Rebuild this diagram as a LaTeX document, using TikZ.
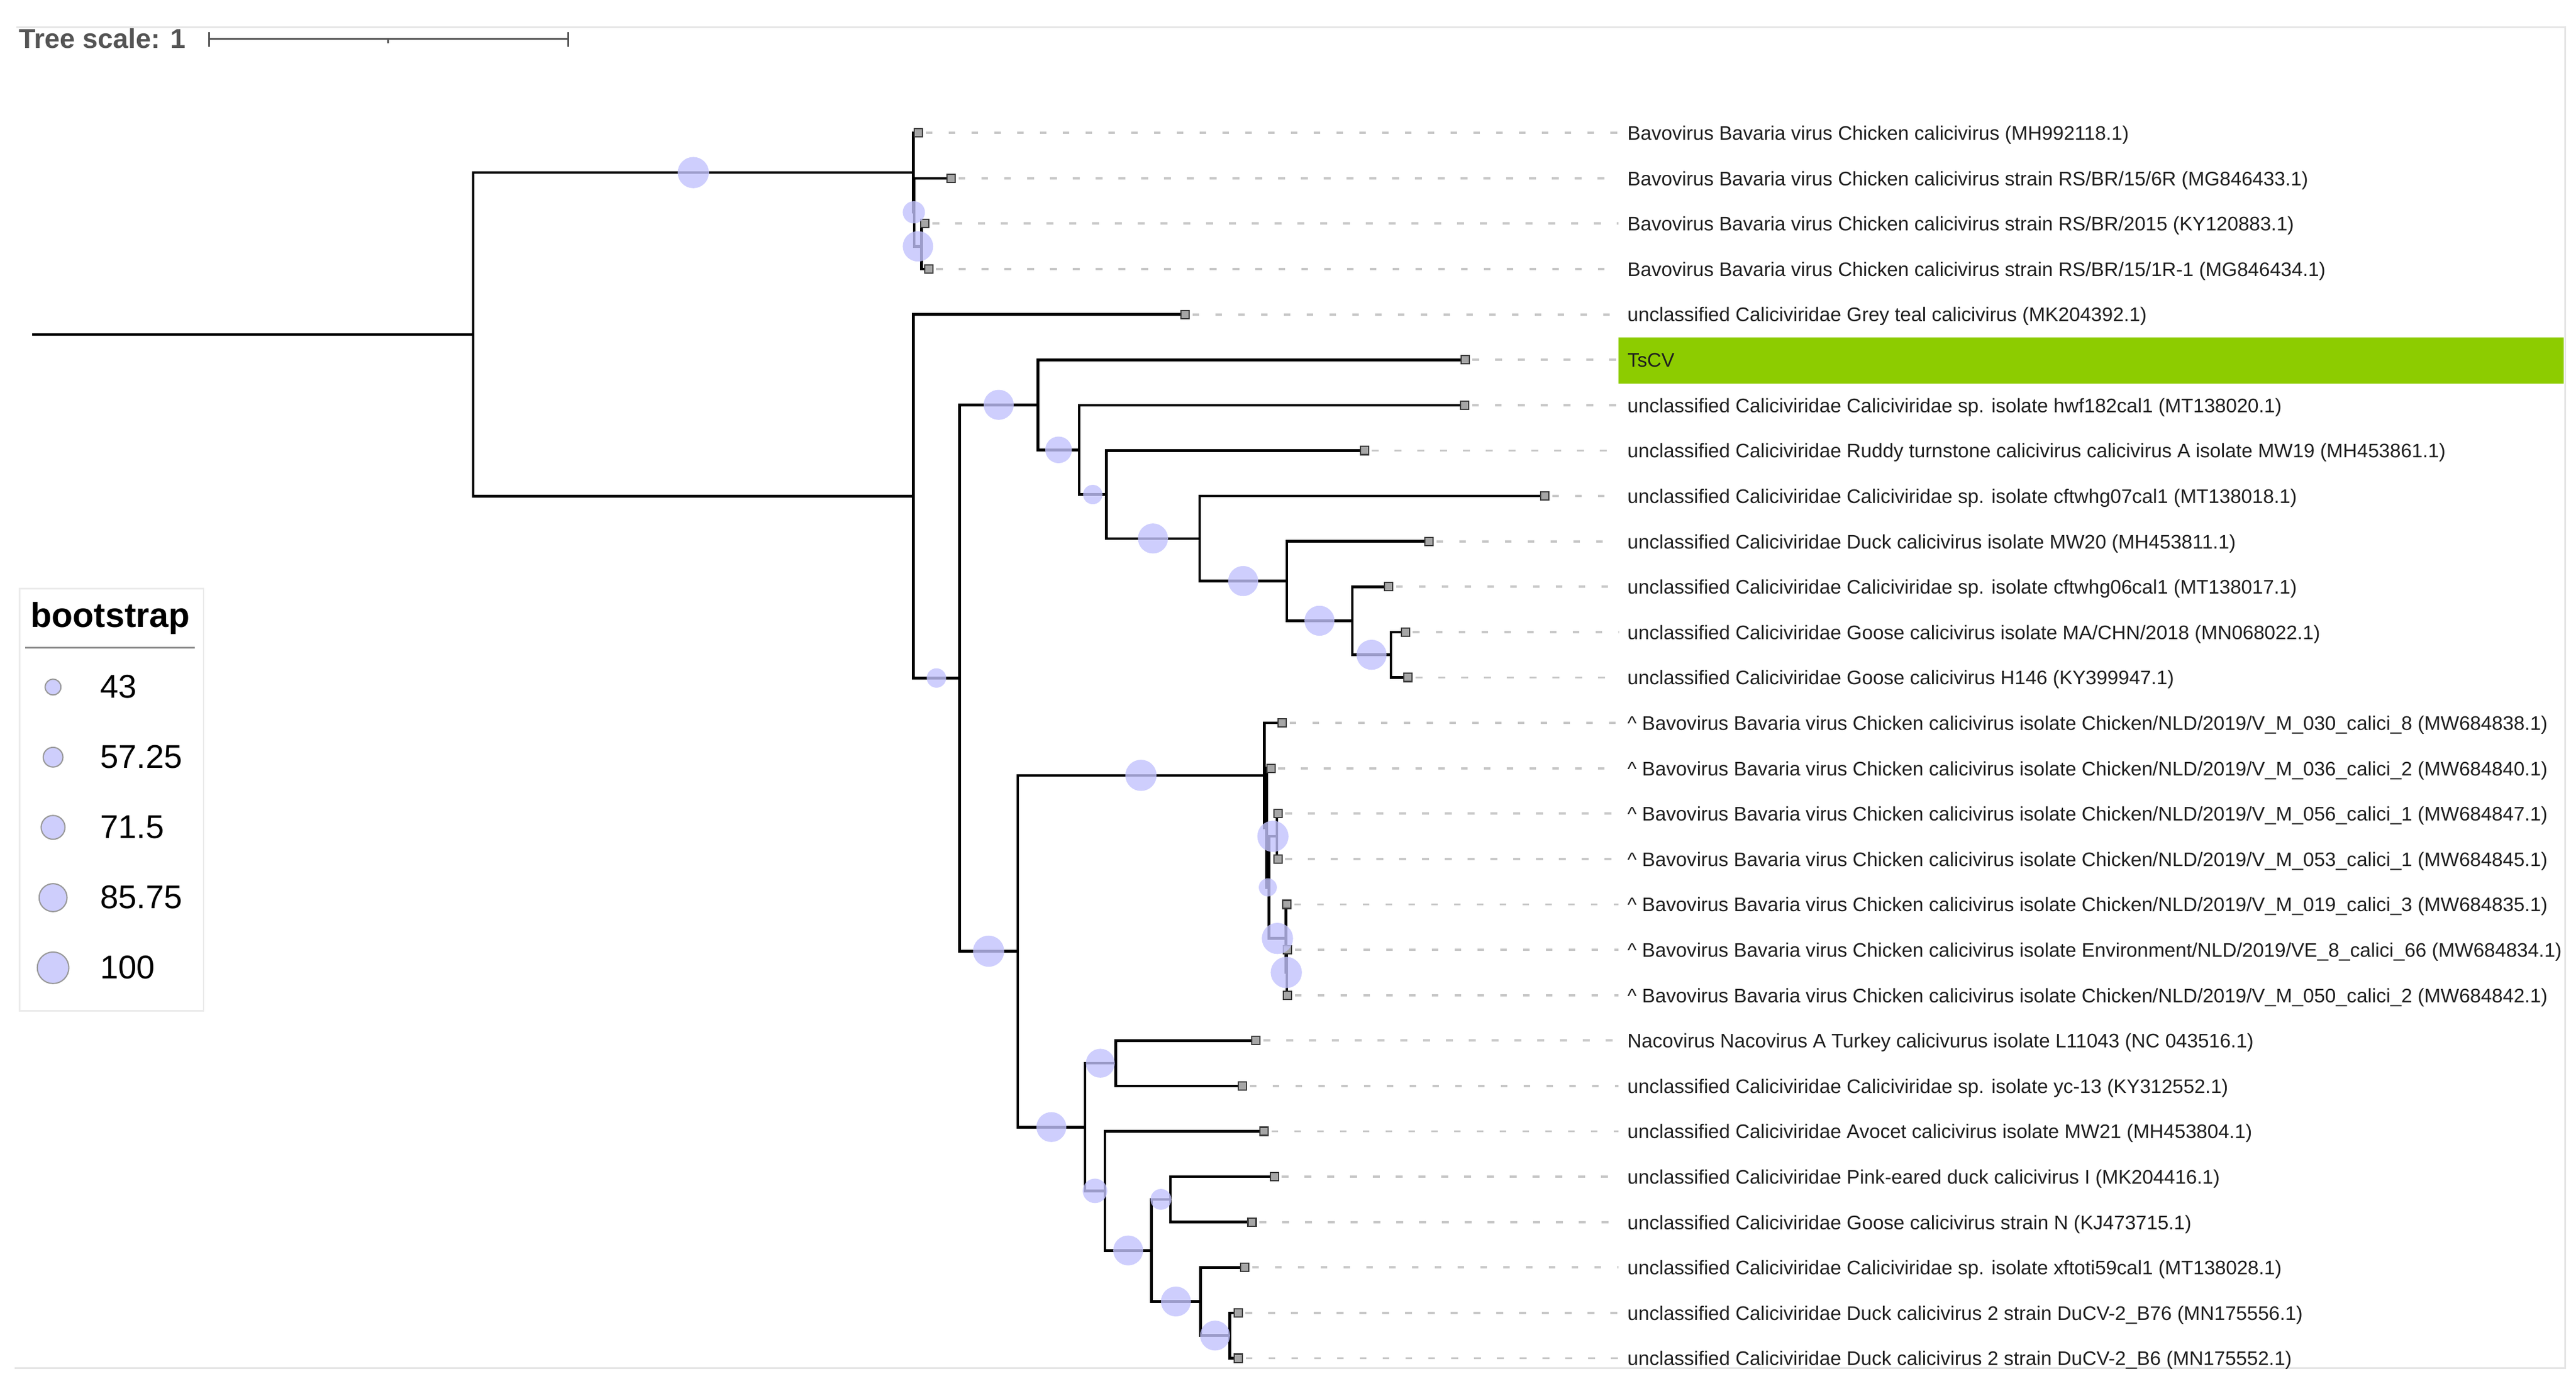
\documentclass[tikz,border=0pt]{standalone}
\usepackage{fontspec}
\setmainfont{Liberation Sans}
\usetikzlibrary{calc}
\definecolor{bootfill}{RGB}{194,194,252}
\definecolor{legfill}{RGB}{206,206,252}
\definecolor{tsgreen}{RGB}{141,204,0}
\def\U{0.02809cm}
\tikzset{
  branch/.style={line width=1.3pt, black},
  leader/.style={line width=1.1pt, black!22, dash pattern=on 3.3pt off 7.8pt},
  leafmark/.style={draw=black!78, fill=black!35, line width=0.6pt, rectangle, inner sep=0pt, minimum size=4pt},
  boot/.style={circle, inner sep=0pt, fill=bootfill, fill opacity=0.8, draw=none},
  legc/.style={circle, inner sep=0pt, fill=legfill, draw=black!40, line width=0.6pt},
  lab/.style={anchor=base west, inner sep=0pt, text=black!88, font=\fontsize{9.55pt}{11pt}\selectfont},
  scalebar/.style={line width=0.9pt, black!67},
}
\newcommand{\mkleaf}[4]{%
  \coordinate (l#1) at (#2,#3);
  \coordinate (e#1) at (985,#3);
  \node[lab] (t#1) at (990.4,#3+4.4) {#4};
}
\newcommand{\edge}[2]{\draw[branch] (#1) |- (#2);}
\newcommand{\bootc}[3]{\node[boot, minimum size=#3*\U] (b#2) at ($(#1 |- #2)!0.5!(#2)$) {};}
\begin{document}
\begin{tikzpicture}[x=\U, y=-\U]
\useasboundingbox (0,0) rectangle (1568,843.8);
% frame
\draw[black!10, line width=1pt] (10,16.6) -- (1561.4,16.6) -- (1561.4,833) -- (9,833);
% highlight
\fill[tsgreen] (985.3,205.4) rectangle (1560.6,233.4);

% leaves
\mkleaf{1}{559}{80.9}{Bavovirus Bavaria virus Chicken calicivirus (MH992118.1)}
\mkleaf{2}{579}{108.53}{Bavovirus Bavaria virus Chicken calicivirus strain RS/BR/15/6R (MG846433.1)}
\mkleaf{3}{563}{136.16}{Bavovirus Bavaria virus Chicken calicivirus strain RS/BR/2015 (KY120883.1)}
\mkleaf{4}{565.3}{163.79}{Bavovirus Bavaria virus Chicken calicivirus strain RS/BR/15/1R-1 (MG846434.1)}
\mkleaf{5}{721.3}{191.42}{unclassified Caliciviridae Grey teal calicivirus (MK204392.1)}
\mkleaf{6}{891.8}{219.05}{TsCV}
\mkleaf{7}{891.6}{246.68}{unclassified Caliciviridae Caliciviridae sp. isolate hwf182cal1 (MT138020.1)}
\mkleaf{8}{830.5}{274.31}{unclassified Caliciviridae Ruddy turnstone calicivirus calicivirus A isolate MW19 (MH453861.1)}
\mkleaf{9}{940.3}{301.94}{unclassified Caliciviridae Caliciviridae sp. isolate cftwhg07cal1 (MT138018.1)}
\mkleaf{10}{869.8}{329.57}{unclassified Caliciviridae Duck calicivirus isolate MW20 (MH453811.1)}
\mkleaf{11}{845.2}{357.2}{unclassified Caliciviridae Caliciviridae sp. isolate cftwhg06cal1 (MT138017.1)}
\mkleaf{12}{855.5}{384.83}{unclassified Caliciviridae Goose calicivirus isolate MA/CHN/2018 (MN068022.1)}
\mkleaf{13}{857.1}{412.46}{unclassified Caliciviridae Goose calicivirus H146 (KY399947.1)}
\mkleaf{14}{780.4}{440.09}{\textasciicircum{} Bavovirus Bavaria virus Chicken calicivirus isolate Chicken/NLD/2019/V\_M\_030\_calici\_8 (MW684838.1)}
\mkleaf{15}{773.6}{467.72}{\textasciicircum{} Bavovirus Bavaria virus Chicken calicivirus isolate Chicken/NLD/2019/V\_M\_036\_calici\_2 (MW684840.1)}
\mkleaf{16}{777.8}{495.35}{\textasciicircum{} Bavovirus Bavaria virus Chicken calicivirus isolate Chicken/NLD/2019/V\_M\_056\_calici\_1 (MW684847.1)}
\mkleaf{17}{777.8}{522.98}{\textasciicircum{} Bavovirus Bavaria virus Chicken calicivirus isolate Chicken/NLD/2019/V\_M\_053\_calici\_1 (MW684845.1)}
\mkleaf{18}{783.3}{550.61}{\textasciicircum{} Bavovirus Bavaria virus Chicken calicivirus isolate Chicken/NLD/2019/V\_M\_019\_calici\_3 (MW684835.1)}
\mkleaf{19}{783.6}{578.24}{\textasciicircum{} Bavovirus Bavaria virus Chicken calicivirus isolate Environment/NLD/2019/VE\_8\_calici\_66 (MW684834.1)}
\mkleaf{20}{783.6}{605.87}{\textasciicircum{} Bavovirus Bavaria virus Chicken calicivirus isolate Chicken/NLD/2019/V\_M\_050\_calici\_2 (MW684842.1)}
\mkleaf{21}{764.5}{633.5}{Nacovirus Nacovirus A Turkey calicivurus isolate L11043 (NC 043516.1)}
\mkleaf{22}{756.2}{661.13}{unclassified Caliciviridae Caliciviridae sp. isolate yc-13 (KY312552.1)}
\mkleaf{23}{769.4}{688.76}{unclassified Caliciviridae Avocet calicivirus isolate MW21 (MH453804.1)}
\mkleaf{24}{775.7}{716.39}{unclassified Caliciviridae Pink-eared duck calicivirus I (MK204416.1)}
\mkleaf{25}{762.1}{744.02}{unclassified Caliciviridae Goose calicivirus strain N (KJ473715.1)}
\mkleaf{26}{757.6}{771.65}{unclassified Caliciviridae Caliciviridae sp. isolate xftoti59cal1 (MT138028.1)}
\mkleaf{27}{753.6}{799.28}{unclassified Caliciviridae Duck calicivirus 2 strain DuCV-2\_B76 (MN175556.1)}
\mkleaf{28}{753.8}{826.91}{unclassified Caliciviridae Duck calicivirus 2 strain DuCV-2\_B6 (MN175552.1)}

% internal nodes
\coordinate (rootstart) at (19.6,203.59);
\coordinate (Root) at (288,203.59);
\coordinate (N1) at (556,105.08);
\coordinate (N2) at (556.5,129.25);
\coordinate (N3) at (561,149.98);
\coordinate (R2) at (556,302.1);
\coordinate (R3) at (584,412.78);
\coordinate (R4) at (631.8,246.46);
\coordinate (R5) at (656.9,273.88);
\coordinate (R6) at (673.4,301.08);
\coordinate (R7) at (730.2,327.84);
\coordinate (R8) at (783.2,353.75);
\coordinate (R9) at (823.1,377.92);
\coordinate (R10) at (846.6,398.65);
\coordinate (R11) at (619.5,579.1);
\coordinate (R12) at (769.5,472.04);
\coordinate (P) at (771,503.98);
\coordinate (Qd) at (772.4,540.25);
\coordinate (Qe) at (777.2,509.17);
\coordinate (Qc) at (782.7,571.33);
\coordinate (Qb) at (783.2,592.06);
\coordinate (R13) at (660.4,686.17);
\coordinate (R14) at (679.1,647.32);
\coordinate (R15) at (672.6,725.02);
\coordinate (R16) at (700.8,761.29);
\coordinate (R17) at (712.5,730.2);
\coordinate (R18) at (730.7,792.37);
\coordinate (R19) at (748.5,813.1);

% leaders
\foreach \i in {1,...,28} { \draw[leader] ($(l\i)+(4.5,0)$) -- (e\i); }

% branches
\draw[branch] (rootstart) -- (Root);
\edge{Root}{N1} \edge{Root}{R2}
\edge{N1}{l1} \edge{N1}{N2}
\edge{N2}{l2} \edge{N2}{N3}
\edge{N3}{l3} \edge{N3}{l4}
\edge{R2}{l5} \edge{R2}{R3}
\edge{R3}{R4} \edge{R3}{R11}
\edge{R4}{l6} \edge{R4}{R5}
\edge{R5}{l7} \edge{R5}{R6}
\edge{R6}{l8} \edge{R6}{R7}
\edge{R7}{l9} \edge{R7}{R8}
\edge{R8}{l10} \edge{R8}{R9}
\edge{R9}{l11} \edge{R9}{R10}
\edge{R10}{l12} \edge{R10}{l13}
\edge{R11}{R12} \edge{R11}{R13}
\edge{R12}{l14} \edge{R12}{P}
\edge{P}{l15} \edge{P}{Qd}
\edge{Qd}{Qe} \edge{Qd}{Qc}
\edge{Qe}{l16} \edge{Qe}{l17}
\edge{Qc}{l18} \edge{Qc}{Qb}
\edge{Qb}{l19} \edge{Qb}{l20}
\edge{R13}{R14} \edge{R13}{R15}
\edge{R14}{l21} \edge{R14}{l22}
\edge{R15}{l23} \edge{R15}{R16}
\edge{R16}{R17} \edge{R16}{R18}
\edge{R17}{l24} \edge{R17}{l25}
\edge{R18}{l26} \edge{R18}{R19}
\edge{R19}{l27} \edge{R19}{l28}

% leaf markers
\foreach \i in {1,...,28} { \node[leafmark] (m\i) at (l\i) {}; }

% bootstrap symbols
\bootc{Root}{N1}{19}
\bootc{N1}{N2}{13.5}
\bootc{N2}{N3}{18.5}
\bootc{R2}{R3}{11.8}
\bootc{R3}{R4}{18.3}
\bootc{R4}{R5}{16.2}
\bootc{R5}{R6}{11.8}
\bootc{R6}{R7}{18.3}
\bootc{R7}{R8}{18.3}
\bootc{R8}{R9}{18.3}
\bootc{R9}{R10}{18.3}
\bootc{R3}{R11}{19}
\bootc{R11}{R12}{19}
\bootc{P}{Qd}{11}
\bootc{Qd}{Qe}{19}
\bootc{Qd}{Qc}{19}
\bootc{Qc}{Qb}{19}
\bootc{R11}{R13}{18.2}
\bootc{R13}{R14}{17.6}
\bootc{R13}{R15}{14.9}
\bootc{R15}{R16}{18.2}
\bootc{R16}{R17}{12.7}
\bootc{R16}{R18}{18.2}
\bootc{R18}{R19}{18.2}

% tree scale
\node[anchor=base west, inner sep=0pt, text=black!67, font=\fontsize{13.3pt}{15pt}\selectfont\bfseries] (tscale) at (11.2,29.5) {Tree scale: 1};
\coordinate (sb1) at (127.4,23.7);
\coordinate (sb2) at (346,23.7);
\coordinate (sbm) at (236.1,23.7);
\draw[scalebar] (sb1) -- (sb2);
\draw[scalebar] ($(sb1)+(0,-4.1)$) -- ($(sb1)+(0,4.8)$);
\draw[scalebar] ($(sb2)+(0,-4.1)$) -- ($(sb2)+(0,4.8)$);
\draw[scalebar] (sbm) -- ($(sbm)+(0,2.6)$);

% legend
\node[draw=black!8, line width=0.8pt, fill=white, inner sep=0pt, minimum width=112.1*\U, minimum height=257.2*\U, anchor=north west] (legbox) at (11.3,357.8) {};
\node[anchor=base west, inner sep=0pt, font=\fontsize{16.8pt}{18pt}\selectfont\bfseries] (legtitle) at (18.4,381.8) {bootstrap};
\draw[black!45, line width=0.8pt] (15.4,394.3) -- (118.6,394.3);
\foreach \v/\yy/\d [count=\k] in {43/418.3/9.6, 57.25/461/12, 71.5/503.7/14.5, 85.75/546.5/17, 100/589.2/19.2} {
  \node[legc, minimum size=\d*\U] (lc\k) at (32.3,\yy) {};
  \node[anchor=base west, inner sep=0pt, font=\fontsize{16pt}{18pt}\selectfont] (lt\k) at (60.8,\yy+6.6) {\v};
}
\end{tikzpicture}
\end{document}
